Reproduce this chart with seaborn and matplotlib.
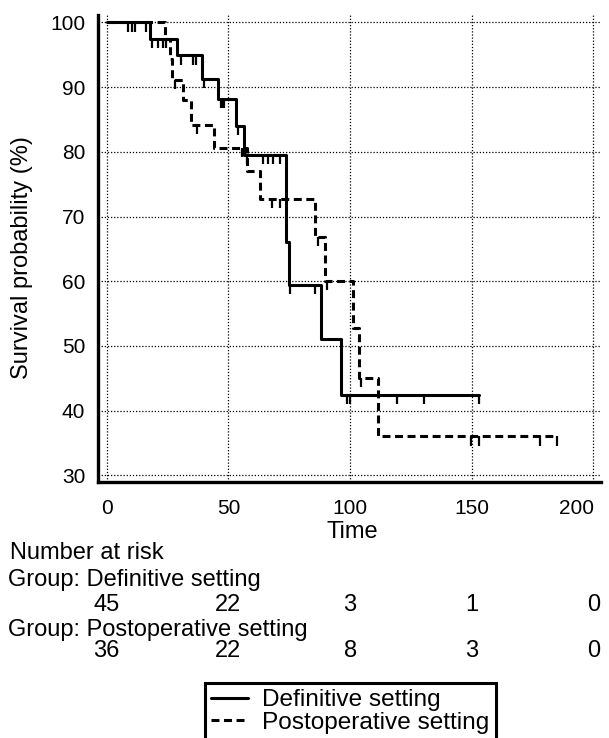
import numpy as np
import pandas as pd
import matplotlib
matplotlib.use("Agg")
import matplotlib.pyplot as plt
from matplotlib.lines import Line2D
from matplotlib.ticker import MultipleLocator, FuncFormatter
import seaborn as sns

# Kaplan-Meier step data (time, survival %) per group
def_event_time = [0, 17.8, 28.8, 39.0, 45.9, 53.0, 56.5, 73.8, 75.0, 87.9, 96.1]
def_survival = [100, 97.4, 94.9, 91.2, 88.1, 84.0, 79.5, 66.1, 59.4, 51.0, 42.4]
def_last_time = 153
def_censored = [8.9, 10.3, 11.6, 16.0, 18.5, 21.2, 23.0, 24.5, 30.4, 35.6, 36.7,
                40.0, 46.8, 47.6, 48.4, 54.0, 57.5, 64.3, 66.4, 68.5, 71.2,
                75.3, 85.5, 98.6, 100.0, 119.4, 130.4, 153]

post_event_time = [0, 24.0, 26.0, 27.0, 31.5, 34.5, 44.0, 57.5, 63.0, 85.6,
                   89.5, 101.0, 103.7, 111.6]
post_survival = [100, 97.5, 94.3, 91.1, 88.0, 84.2, 80.6, 77.0, 72.7, 66.9,
                 60.0, 52.7, 45.0, 36.0]
post_last_time = 185
post_censored = [28.0, 37.0, 55.5, 67.8, 71.2, 87.0, 90.5, 104.5, 149.5, 153,
                 178, 185]

groups = ["Definitive setting", "Postoperative setting"]
risk_times = [0, 50, 100, 150, 200]
risk_def = [45, 22, 3, 1, 0]
risk_post = [36, 22, 8, 3, 0]

sns.set_style("white")
plt.rcParams["font.family"] = ["Liberation Sans", "DejaVu Sans"]
plt.rcParams["text.color"] = "black"
FS_TICK = 15
FS = 17

frames = []
for name, et, sv, last in [(groups[0], def_event_time, def_survival, def_last_time),
                           (groups[1], post_event_time, post_survival, post_last_time)]:
    frames.append(pd.DataFrame({"time": list(et) + [last],
                                "surv": list(sv) + [sv[-1]],
                                "group": name}))
df = pd.concat(frames, ignore_index=True)

W, H = 609, 738
fig = plt.figure(figsize=(W / 100, H / 100), dpi=100)
ax = fig.add_axes([97.7 / W, 1 - 482 / H, (601 - 97.7) / W, (482 - 14.7) / H])

sns.lineplot(data=df, x="time", y="surv", hue="group", style="group",
             palette=["black", "black"],
             dashes={groups[0]: "", groups[1]: (2.6, 1.5)},
             drawstyle="steps-post", estimator=None, sort=False,
             linewidth=2.2, legend=False, ax=ax)

# censoring marks hang below the curve
for et, sv, cens in [(def_event_time, def_survival, def_censored),
                     (post_event_time, post_survival, post_censored)]:
    idx = np.searchsorted(et, cens, side="right") - 1
    s = np.asarray(sv)[idx]
    ax.vlines(cens, s - 1.4, s, color="black", linewidth=1.6)

ax.set_xlim(-3.7, 203.1)
ax.set_ylim(28.96, 101.2)
ax.xaxis.set_major_locator(MultipleLocator(50))
ax.yaxis.set_major_locator(MultipleLocator(10))
ax.yaxis.set_minor_locator(MultipleLocator(5))
# the 200 label is drawn separately so it stays inside the figure
ax.xaxis.set_major_formatter(FuncFormatter(lambda v, p: "" if v >= 200 else f"{v:.0f}"))
ax.grid(True, which="major", color="black", linestyle=(0, (1, 1.5)), linewidth=0.9)
ax.set_axisbelow(True)

for side in ["top", "right"]:
    ax.spines[side].set_visible(False)
for side in ["left", "bottom"]:
    ax.spines[side].set_linewidth(2.4)
    ax.spines[side].set_color("black")

ax.tick_params(axis="both", which="major", direction="in", length=5, width=2,
               labelsize=FS_TICK, colors="black")
ax.tick_params(axis="y", which="major", pad=9)
ax.tick_params(axis="x", which="major", pad=12)
ax.tick_params(axis="y", which="minor", direction="in", length=3, width=1.2)
ax.set_xlabel("")
ax.set_ylabel("")

def fy(py):
    return 1 - py / H

fig.text(594 / W, fy(508.5), "200", ha="right", va="center", fontsize=FS_TICK)

fig.text(22 / W, fy(258), "Survival probability (%)", rotation=90,
         ha="center", va="center", fontsize=FS)
fig.text(352 / W, fy(532), "Time", ha="center", va="center", fontsize=FS)

fig.text(10 / W, fy(553), "Number at risk", ha="left", va="center", fontsize=FS)
fig.text(8 / W, fy(580), "Group: " + groups[0], ha="left", va="center", fontsize=FS)
fig.text(8 / W, fy(630), "Group: " + groups[1], ha="left", va="center", fontsize=FS)

# numbers at risk aligned with the time axis
for row_y, counts in [(605, risk_def), (651, risk_post)]:
    for t, n in zip(risk_times, counts):
        xf = fig.transFigure.inverted().transform(ax.transData.transform((t, 0)))[0]
        fig.text(xf, fy(row_y), str(n), ha="center", va="center", fontsize=FS)

handles = [Line2D([], [], color="black", linewidth=2.2),
           Line2D([], [], color="black", linewidth=2.2, dashes=(2.6, 1.5))]
leg = fig.legend(handles, groups, loc="upper left",
                 bbox_to_anchor=(205 / W, fy(683)), borderaxespad=0,
                 frameon=True, fancybox=False, edgecolor="black",
                 fontsize=17.6, handlelength=1.5, handletextpad=0.6,
                 borderpad=0.25, labelspacing=0.02)
leg.get_frame().set_linewidth(2.2)
leg.get_frame().set_alpha(1)

fig.savefig("out.png", dpi=100)
